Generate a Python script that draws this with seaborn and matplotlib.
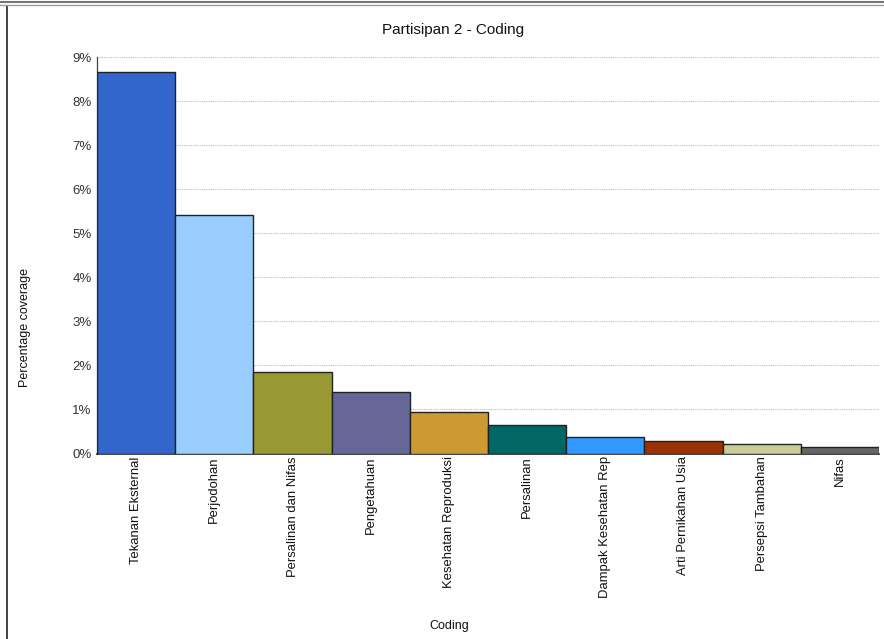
import numpy as np
import pandas as pd
import matplotlib
matplotlib.use("Agg")
import matplotlib.pyplot as plt
from matplotlib.lines import Line2D
from matplotlib.ticker import FuncFormatter
import seaborn as sns

# data
categories = ["Tekanan Eksternal", "Perjodohan", "Persalinan dan Nifas", "Pengetahuan",
              "Kesehatan Reproduksi", "Persalinan", "Dampak Kesehatan Rep",
              "Arti Pernikahan Usia", "Persepsi Tambahan", "Nifas"]
coverage = [8.67, 5.41, 1.85, 1.39, 0.95, 0.64, 0.37, 0.29, 0.21, 0.15]
bar_colors = ["#3366CC", "#99CCFF", "#999933", "#666699", "#CC9933",
              "#006666", "#3399FF", "#993300", "#CCCC99", "#666666"]
y_ticks = [0, 1, 2, 3, 4, 5, 6, 7, 8, 9]

df = pd.DataFrame({"Coding": categories, "coverage": coverage})

sns.set_style("white")
plt.rcParams["font.family"] = ["Liberation Sans", "DejaVu Sans"]

fig = plt.figure(figsize=(8.84, 6.39), dpi=100)
ax = fig.add_axes([97 / 884, (639 - 453.5) / 639, (879 - 97) / 884, (453.5 - 57.3) / 639])

sns.barplot(data=df, x="Coding", y="coverage", hue="Coding", palette=bar_colors,
            saturation=1, width=1.0, edgecolor="#222222", linewidth=1.0,
            legend=False, ax=ax, zorder=3)

ax.set_xlim(-0.5, 9.5)
ax.set_ylim(0, 9)
ax.set_yticks(y_ticks)
ax.yaxis.set_major_formatter(FuncFormatter(lambda v, p: f"{v:.0f}%"))
ax.grid(axis="y", color="#bbbbbb", linestyle=(0, (1, 1)), linewidth=0.8, zorder=0)
ax.grid(axis="x", visible=False)

for s in ["top", "right"]:
    ax.spines[s].set_visible(False)
ax.spines["left"].set_color("#444444")
ax.spines["bottom"].set_color("#222222")
ax.spines["left"].set_linewidth(0.9)
ax.spines["bottom"].set_linewidth(1.2)

ax.tick_params(axis="y", length=0, labelsize=9.5, colors="#333333", pad=4)
ax.tick_params(axis="x", length=0, labelsize=9.4, colors="#111111", pad=2)
plt.setp(ax.get_xticklabels(), rotation=90)

ax.set_xlabel("Coding", fontsize=9, color="#111111", labelpad=0)
ax.xaxis.set_label_coords(0.45, -0.42)
ax.set_ylabel("Percentage coverage", fontsize=9, color="#111111")
ax.yaxis.set_label_coords(-0.085, 0.317)
ax.set_title("Partisipan 2 - Coding", fontsize=11, color="#111111", pad=17, x=0.455)

# frame lines of the screenshot
fig.add_artist(Line2D([7.5 / 884, 7.5 / 884], [0, 1 - 6 / 639], transform=fig.transFigure,
                      color="#222222", linewidth=1.2))
fig.add_artist(Line2D([0, 1], [1 - 2 / 639, 1 - 2 / 639], transform=fig.transFigure,
                      color="#777777", linewidth=1.5))
fig.add_artist(Line2D([0, 1], [1 - 5 / 639, 1 - 5 / 639], transform=fig.transFigure,
                      color="#999999", linewidth=1.0))

fig.savefig("out.png", dpi=100)
